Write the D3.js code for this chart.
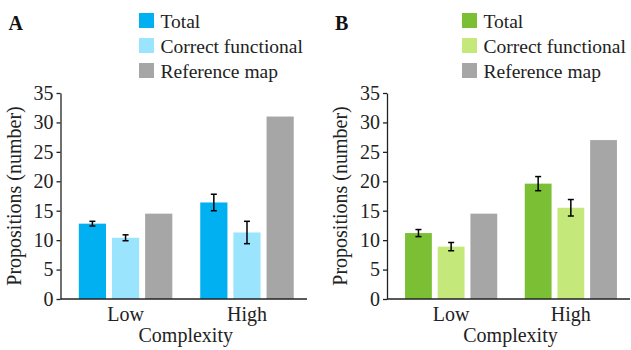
<!DOCTYPE html>
<html>
<head>
<meta charset="utf-8">
<script src="https://cdn.jsdelivr.net/npm/d3@7"></script>
<style>
  body { margin: 0; background: #fff; }
  svg text { font-family: "Liberation Serif", "Times New Roman", Times, serif !important; }
</style>
</head>
<body>
<div id="chart"></div>
<script>
(function() {

const w = 631;
const h = 350;
const fontSize = 20;

const categories = ["Low", "High"];
const seriesNames = ["Total", "Correct functional", "Reference map"];
const yTicks = [0, 5, 10, 15, 20, 25, 30, 35];

// panel A
const totalA = [12.8, 16.4];
const totalErrA = [0.4, 1.4];
const correctA = [10.4, 11.3];
const correctErrA = [0.5, 1.9];
const referenceA = [14.5, 31];

// panel B
const totalB = [11.2, 19.6];
const totalErrB = [0.6, 1.2];
const correctB = [8.9, 15.5];
const correctErrB = [0.7, 1.4];
const referenceB = [14.5, 27];

const panels = [
    { label: "A", left: 60.5, right: 307, legendX: 139, colours: ["#00b0f0", "#9be4fd", "#a6a6a6"],
      values: [totalA, correctA, referenceA], errors: [totalErrA, correctErrA, null] },
    { label: "B", left: 387, right: 630, legendX: 462, colours: ["#7abf34", "#c4e97a", "#a6a6a6"],
      values: [totalB, correctB, referenceB], errors: [totalErrB, correctErrB, null] }
];

const svg = d3.select("#chart")
    .append("svg")
    .attr("width", w)
    .attr("height", h);

const y = d3.scaleLinear()
    .domain([0, 35])
    .range([299, 93]);

panels.forEach(function(p) {
    const g = svg.append("g");

    const x0 = d3.scaleBand()
        .domain(categories)
        .range([p.left, p.right])
        .paddingInner(0.23)
        .paddingOuter(0.13)
        .align(0.58);

    const x1 = d3.scaleBand()
        .domain(seriesNames)
        .range([0, x0.bandwidth()])
        .paddingInner(0.18);

    // bars
    seriesNames.forEach(function(s, si) {
        categories.forEach(function(c, ci) {
            const v = p.values[si][ci];
            g.append("rect")
                .attr("x", x0(c) + x1(s))
                .attr("y", y(v))
                .attr("width", x1.bandwidth())
                .attr("height", y(0) - y(v))
                .attr("fill", p.colours[si]);

            if (p.errors[si]) {
                const e = p.errors[si][ci];
                const cx = x0(c) + x1(s) + x1.bandwidth() / 2;
                g.append("line")
                    .attr("x1", cx).attr("x2", cx)
                    .attr("y1", y(v + e)).attr("y2", y(v - e))
                    .attr("stroke", "#000").attr("stroke-width", 1.5);
                [v + e, v - e].forEach(function(yy) {
                    g.append("line")
                        .attr("x1", cx - 3).attr("x2", cx + 3)
                        .attr("y1", y(yy)).attr("y2", y(yy))
                        .attr("stroke", "#000").attr("stroke-width", 1.5);
                });
            }
        });
    });

    // y axis
    const yAxis = g.append("g")
        .attr("transform", "translate(" + p.left + ",0)")
        .call(d3.axisLeft(y).tickValues(yTicks).tickSize(4).tickSizeOuter(0).tickPadding(3));
    yAxis.selectAll("text")
        .attr("font-size", fontSize)
        .attr("fill", "#222");
    yAxis.selectAll("line, path").attr("stroke", "#222").attr("stroke-width", 1.3);

    // x axis line
    const xAxis = g.append("g")
        .attr("transform", "translate(0," + y(0) + ")")
        .call(d3.axisBottom(x0).tickSize(0).tickPadding(8));
    xAxis.select("path.domain").attr("d", "M" + p.left + ",0H" + p.right)
        .attr("stroke", "#222").attr("stroke-width", 1.3);
    xAxis.selectAll("text")
        .attr("font-size", fontSize)
        .attr("fill", "#222")
        .attr("dy", "0.7em");

    // axis titles
    g.append("text")
        .attr("x", (x0.range()[0] + x0.range()[1]) / 2 + 2)
        .attr("y", 342)
        .attr("text-anchor", "middle")
        .attr("font-size", fontSize)
        .attr("fill", "#222")
        .text("Complexity");

    g.append("text")
        .attr("transform", "translate(" + (p.left - 40) + "," + (y(0) + y(35)) / 2 + ") rotate(-90)")
        .attr("text-anchor", "middle")
        .attr("font-size", fontSize)
        .attr("fill", "#222")
        .text("Propositions (number)");

    // panel label
    g.append("text")
        .attr("x", p.left - 52)
        .attr("y", 30)
        .attr("font-size", 20)
        .attr("font-weight", "bold")
        .attr("fill", "#111")
        .text(p.label);

    // legend
    seriesNames.forEach(function(s, si) {
        g.append("rect")
            .attr("x", p.legendX)
            .attr("y", 13 + si * 25)
            .attr("width", 15)
            .attr("height", 15)
            .attr("fill", p.colours[si]);
        g.append("text")
            .attr("x", p.legendX + 21.5)
            .attr("y", 28 + si * 25)
            .attr("font-size", 19.5)
            .attr("fill", "#222")
            .text(s);
    });
});

})();
</script>
</body>
</html>
